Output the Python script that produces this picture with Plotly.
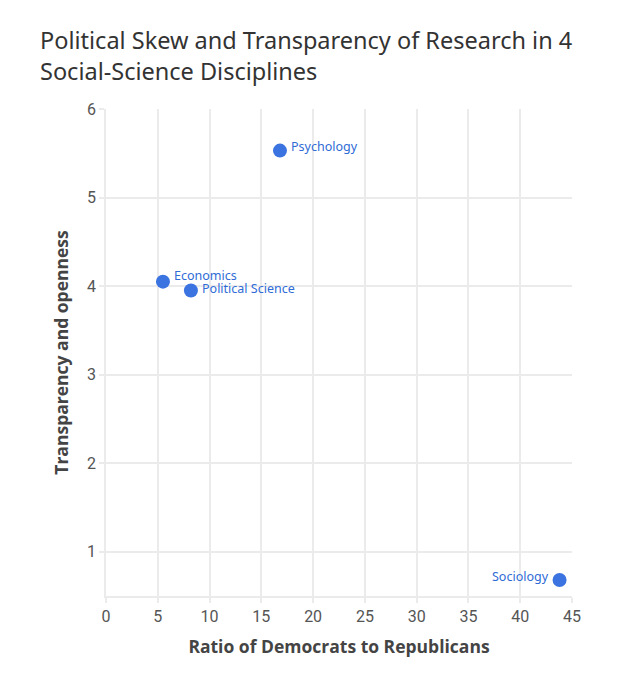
import plotly.graph_objects as go

disciplines = ["Psychology", "Economics", "Political Science", "Sociology"]
dem_rep_ratio = [16.8, 5.5, 8.2, 43.8]
transparency = [5.53, 4.05, 3.95, 0.68]
label_side = ["right", "right", "right", "left"]
label_lift = [4, 6, 2, 4]

fig = go.Figure(
    go.Scatter(
        x=dem_rep_ratio,
        y=transparency,
        mode="markers",
        marker=dict(size=14, color="#3b73e0"),
        showlegend=False,
        cliponaxis=False,
    )
)

for name, xv, yv, side, lift in zip(disciplines, dem_rep_ratio, transparency, label_side, label_lift):
    fig.add_annotation(
        x=xv,
        y=yv,
        text=name,
        showarrow=False,
        xanchor="left" if side == "right" else "right",
        xshift=9 if side == "right" else -9,
        yshift=lift,
        font=dict(family="Noto Sans", size=12.5, color="#2f6bd6"),
    )

axis_common = dict(
    showgrid=True,
    gridcolor="#ebebeb",
    gridwidth=1.5,
    showline=True,
    linecolor="#ebebeb",
    linewidth=1.5,
    ticks="outside",
    ticklen=5,
    tickcolor="#ebebeb",
    tickwidth=1.5,
    zeroline=False,
    tickfont=dict(family="Roboto", size=16, color="#555555"),
)

fig.update_layout(
    width=626,
    height=680,
    paper_bgcolor="white",
    plot_bgcolor="white",
    margin=dict(l=98, r=62, t=101, b=92),
    title=dict(
        text="Political Skew and Transparency of Research in 4<br>Social-Science Disciplines",
        x=32 / 626,
        xref="container",
        xanchor="left",
        y=1 - 41 / 680,
        yref="container",
        yanchor="top",
        font=dict(family="Noto Sans", size=23.5, color="#333333"),
    ),
    xaxis=dict(
        range=[0, 45],
        dtick=5,
        title=dict(
            text="<b>Ratio of Democrats to Republicans</b>",
            font=dict(family="Open Sans", size=17.5, color="#444444"),
            standoff=16,
        ),
        **axis_common,
    ),
    yaxis=dict(
        range=[0.5, 6],
        dtick=1,
        title=dict(
            text="<b>Transparency and openness</b>",
            font=dict(family="Open Sans", size=17.5, color="#444444"),
            standoff=14,
        ),
        **axis_common,
    ),
)

fig.write_html("out.html")
